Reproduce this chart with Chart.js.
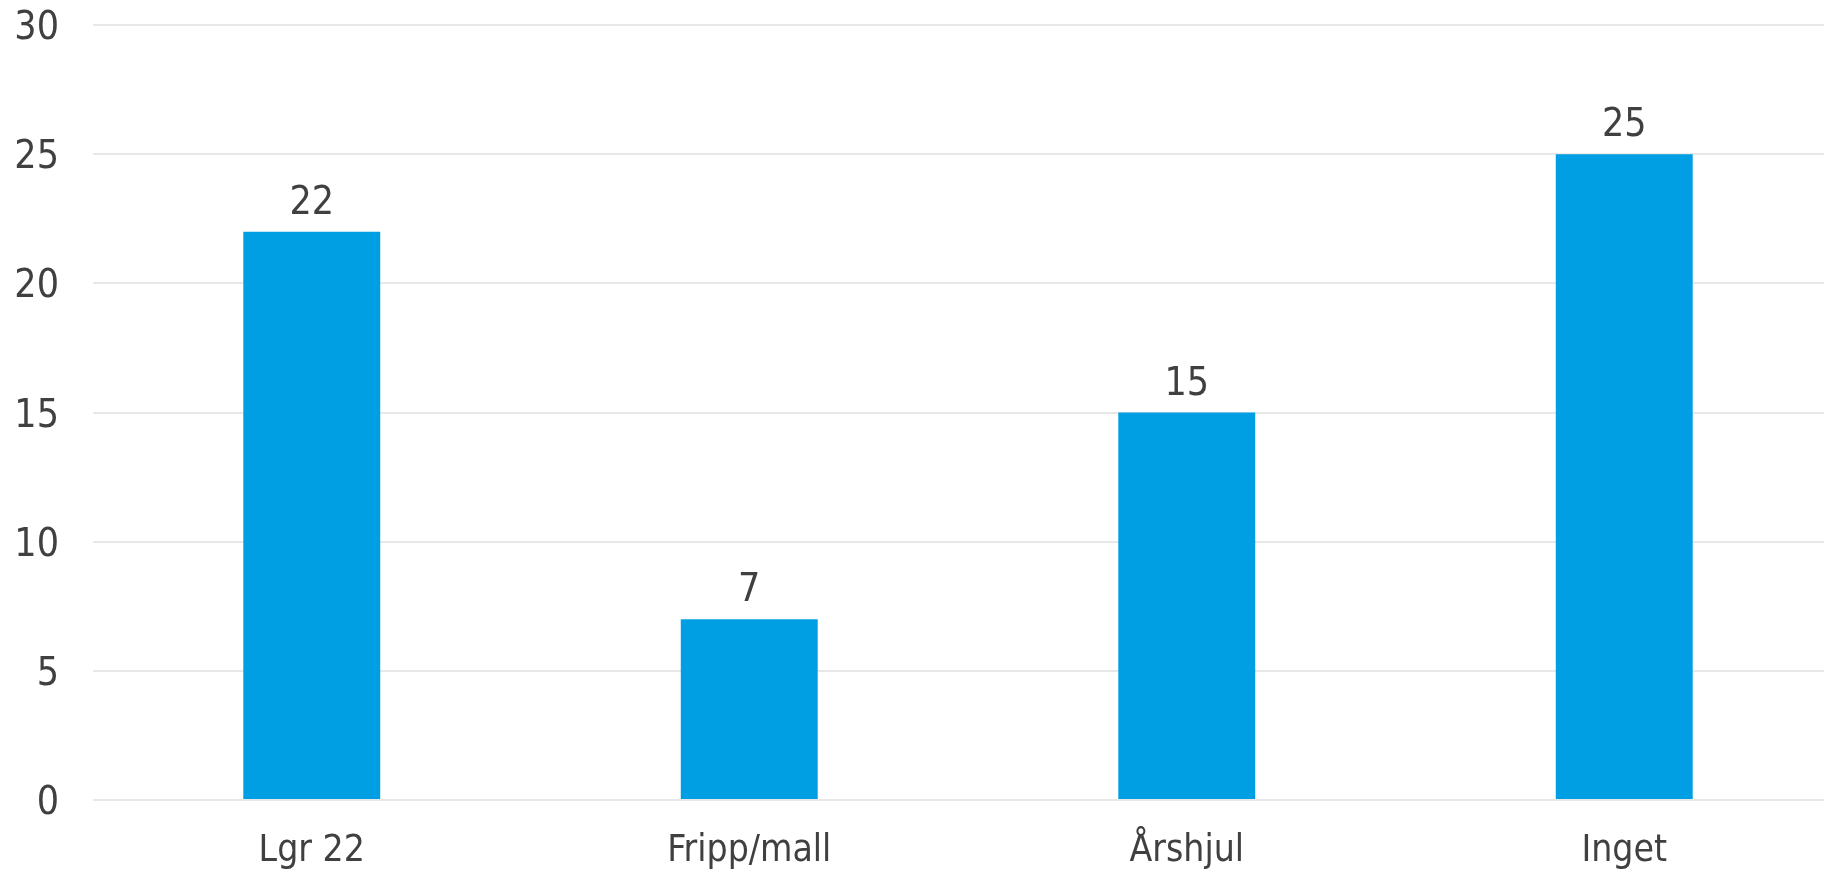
<!DOCTYPE html>
<html>
<head>
<meta charset="utf-8">
<script src="https://cdn.jsdelivr.net/npm/chart.js@4/dist/chart.umd.min.js"></script>
<style>
  html, body { margin: 0; padding: 0; background: #fff; overflow: hidden; }
  #wrap { width: 1843px; height: 874px; }
</style>
</head>
<body>
<div id="wrap"><canvas id="myChart"></canvas></div>
<script>
// data
let categories = ['Lgr 22', 'Fripp/mall', 'Årshjul', 'Inget'];
let answers = [22, 7, 15, 25];
let yTicks = [0, 5, 10, 15, 20, 25, 30];

let textColor = '#404040';
let barColor = '#009FE3';
let gridColor = '#E8E8E8';
let fontName = '"DejaVu Sans Condensed", "DejaVu Sans", sans-serif';

// value labels above the bars
const valueLabels = {
    id: 'valueLabels',
    afterDatasetsDraw(chart) {
        const ctx = chart.ctx;
        const meta = chart.getDatasetMeta(0);
        ctx.save();
        ctx.fillStyle = textColor;
        ctx.font = '39px ' + fontName;
        ctx.textAlign = 'center';
        ctx.textBaseline = 'alphabetic';
        meta.data.forEach((bar, i) => {
            ctx.fillText(String(answers[i]), bar.x, bar.y - 18);
        });
        ctx.restore();
    }
};

window.onload = function() {
    const ctx = document.getElementById('myChart').getContext('2d');
    new Chart(ctx, {
        type: 'bar',
        data: {
            labels: categories,
            datasets: [{
                data: answers,
                backgroundColor: barColor,
                borderWidth: 0,
                categoryPercentage: 1,
                barPercentage: 0.313,
            }],
        },
        options: {
            responsive: true,
            maintainAspectRatio: false,
            animation: false,
            layout: { padding: { top: 25, right: 0, bottom: 0, left: 0 } },
            plugins: {
                legend: { display: false },
                tooltip: { enabled: false },
            },
            scales: {
                x: {
                    grid: { display: false },
                    border: { display: false },
                    ticks: {
                        color: textColor,
                        font: { family: fontName, size: 37 },
                        padding: 21,
                        maxRotation: 0,
                    },
                    afterFit: function(scale) { scale.height = 74; },
                },
                y: {
                    min: 0,
                    max: 30,
                    grid: { color: gridColor, lineWidth: 2, drawTicks: false },
                    border: { display: false },
                    afterBuildTicks: function(scale) {
                        scale.ticks = yTicks.map(v => ({ value: v }));
                    },
                    ticks: {
                        color: textColor,
                        font: { family: fontName, size: 39 },
                        padding: 34,
                        labelOffset: 4,
                    },
                    afterFit: function(scale) {
                        scale.width = 93;
                        scale.paddingTop = 0;
                        scale.paddingBottom = 0;
                    },
                },
            },
        },
        plugins: [valueLabels],
    });
};
</script>
</body>
</html>
